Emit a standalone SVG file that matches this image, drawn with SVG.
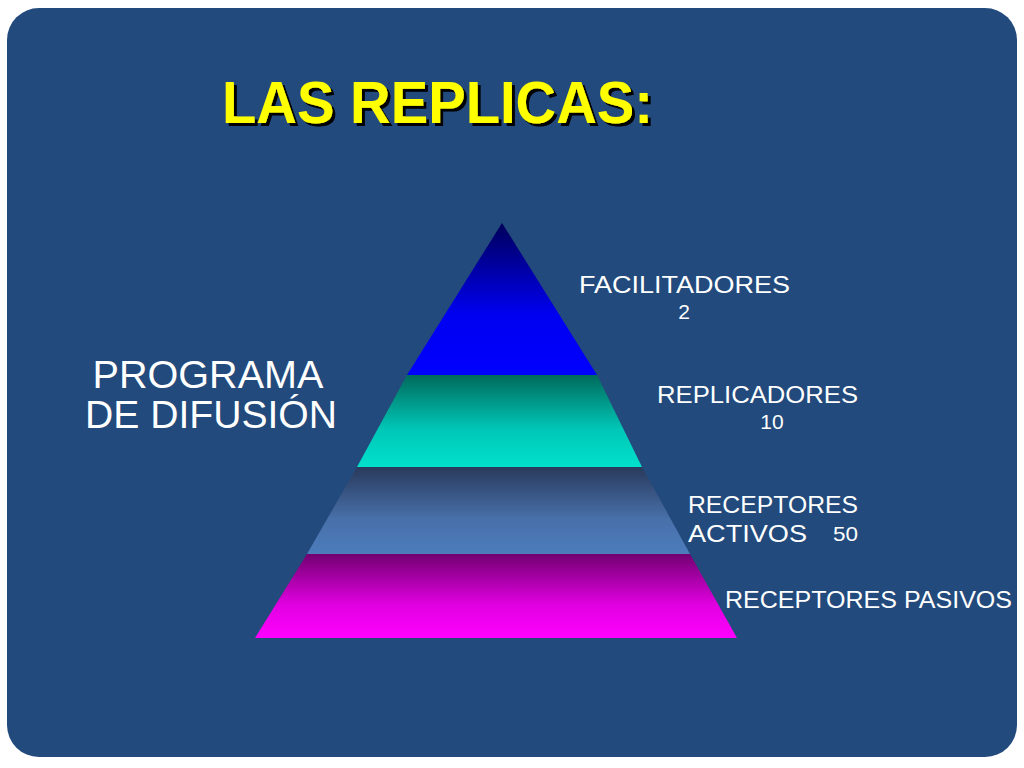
<svg xmlns="http://www.w3.org/2000/svg" width="1024" height="768" viewBox="0 0 1024 768">
  <defs>
    <linearGradient id="g1" x1="0" y1="0" x2="0" y2="1">
      <stop offset="0" stop-color="#00005A"/>
      <stop offset="0.6" stop-color="#0000F0"/>
      <stop offset="1" stop-color="#0000FF"/>
    </linearGradient>
    <linearGradient id="g2" x1="0" y1="0" x2="0" y2="1">
      <stop offset="0" stop-color="#006A5C"/>
      <stop offset="0.6" stop-color="#00C8B8"/>
      <stop offset="1" stop-color="#00E0CC"/>
    </linearGradient>
    <linearGradient id="g3" x1="0" y1="0" x2="0" y2="1">
      <stop offset="0" stop-color="#293A5C"/>
      <stop offset="0.6" stop-color="#4870AA"/>
      <stop offset="1" stop-color="#4C7CBC"/>
    </linearGradient>
    <linearGradient id="g4" x1="0" y1="0" x2="0" y2="1">
      <stop offset="0" stop-color="#720070"/>
      <stop offset="0.6" stop-color="#E000E0"/>
      <stop offset="1" stop-color="#FF00FF"/>
    </linearGradient>
    <filter id="shadow" x="-5%" y="-20%" width="110%" height="140%">
      <feDropShadow dx="3" dy="3" stdDeviation="0.5" flood-color="#000000" flood-opacity="1"/>
    </filter>
  </defs>
  <style>
    .lbl { font-family: "Liberation Sans", "DejaVu Sans", sans-serif; fill: #FFFFFF; font-size: 24px; }
    .num { font-family: "Liberation Sans", "DejaVu Sans", sans-serif; fill: #FFFFFF; font-size: 21px; }
    .side { font-family: "Liberation Sans", "DejaVu Sans", sans-serif; fill: #FFFFFF; font-size: 38px; }
    .title { font-family: "Liberation Sans", "DejaVu Sans", sans-serif; font-weight: bold; font-size: 60px; fill: #FFFF00; }
  </style>
  <rect x="0" y="0" width="1024" height="768" fill="#FFFFFF"/>
  <rect x="7" y="8" width="1010" height="749" rx="32" ry="32" fill="#224A7C"/>

  <g id="title">
    <text class="title" x="222" y="123" filter="url(#shadow)" textLength="431" lengthAdjust="spacingAndGlyphs">LAS REPLICAS:</text>
  </g>

  <g id="pyramid">
    <g id="band-facilitadores">
      <polygon points="502,223 597,375 407,375" fill="url(#g1)"/>
    </g>
    <g id="band-replicadores">
      <polygon points="407,375 597,375 642,467 357,467" fill="url(#g2)"/>
    </g>
    <g id="band-receptores-activos">
      <polygon points="357,467 642,467 690,554 307,554" fill="url(#g3)"/>
    </g>
    <g id="band-receptores-pasivos">
      <polygon points="307,554 690,554 737,638 255,638" fill="url(#g4)"/>
    </g>
  </g>

  <g id="programa">
    <text class="side" x="208" y="388" text-anchor="middle" textLength="231" lengthAdjust="spacingAndGlyphs">PROGRAMA</text>
    <text class="side" x="211" y="428" text-anchor="middle" textLength="252" lengthAdjust="spacingAndGlyphs">DE DIFUSIÓN</text>
  </g>

  <g id="labels">
    <g id="lbl-facilitadores">
      <text class="lbl" x="579" y="293" textLength="211" lengthAdjust="spacingAndGlyphs">FACILITADORES</text>
      <text class="num" x="684" y="319" text-anchor="middle">2</text>
    </g>
    <g id="lbl-replicadores">
      <text class="lbl" x="657" y="403" textLength="201" lengthAdjust="spacingAndGlyphs">REPLICADORES</text>
      <text class="num" x="772" y="429" text-anchor="middle">10</text>
    </g>
    <g id="lbl-receptores-activos">
      <text class="lbl" x="688" y="513" textLength="170" lengthAdjust="spacingAndGlyphs">RECEPTORES</text>
      <text class="lbl" x="688" y="542" textLength="119" lengthAdjust="spacingAndGlyphs">ACTIVOS</text>
      <text class="num" x="833" y="541" textLength="25" lengthAdjust="spacingAndGlyphs">50</text>
    </g>
    <g id="lbl-receptores-pasivos">
      <text class="lbl" x="725" y="608" textLength="287" lengthAdjust="spacingAndGlyphs">RECEPTORES PASIVOS</text>
    </g>
  </g>
</svg>
